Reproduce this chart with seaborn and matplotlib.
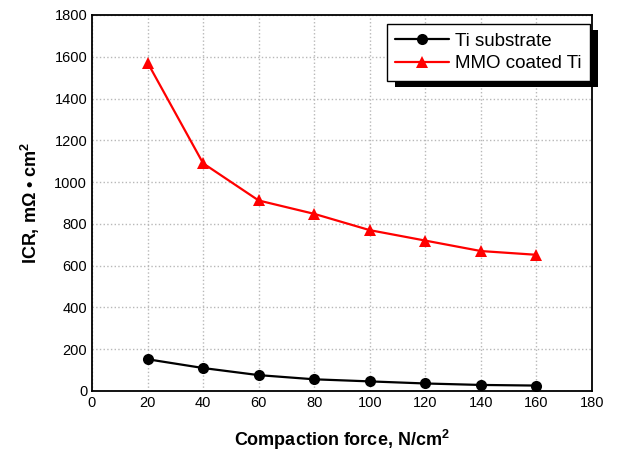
import matplotlib
matplotlib.use("Agg")
import matplotlib.pyplot as plt
from matplotlib.patches import Rectangle
import seaborn as sns
import pandas as pd
import numpy as np

# values
force = [20, 40, 60, 80, 100, 120, 140, 160]
icr_ti = [152, 110, 76, 56, 46, 36, 29, 26]
icr_mmo = [1572, 1090, 912, 848, 770, 720, 670, 652]
series_names = ["Ti substrate", "MMO coated Ti"]

df = pd.DataFrame({
    "force": force * 2,
    "icr": icr_ti + icr_mmo,
    "sample": [series_names[0]] * len(force) + [series_names[1]] * len(force),
})

sns.set_style("white")
plt.rcParams['font.family'] = ['Liberation Sans', 'DejaVu Sans']
plt.rcParams['mathtext.fontset'] = 'custom'
plt.rcParams['mathtext.rm'] = 'Liberation Sans'
plt.rcParams['mathtext.bf'] = 'Liberation Sans:bold'
for k in ['text.color', 'axes.labelcolor', 'xtick.color', 'ytick.color']:
    plt.rcParams[k] = 'black'

fig = plt.figure(figsize=(6.17, 4.51), dpi=100)
ax = fig.add_axes([92 / 617, 60 / 451, 500 / 617, 376 / 451])

sns.lineplot(data=df, x="force", y="icr", hue="sample", style="sample",
             palette={series_names[0]: "black", series_names[1]: "red"},
             markers={series_names[0]: "o", series_names[1]: "^"},
             dashes=False, markersize=8, linewidth=1.6, markeredgewidth=0,
             ax=ax, legend=True)

ax.set_xlim(0, 180)
ax.set_ylim(0, 1800)
ax.set_xticks(np.arange(0, 181, 20))
ax.set_yticks(np.arange(0, 1801, 200))
ax.set_xticks(np.arange(10, 180, 20), minor=True)
ax.set_yticks(np.arange(100, 1800, 200), minor=True)
ax.tick_params(which="both", direction="in", top=False, right=False,
               labelsize=10.5, width=1.2, color="black")
ax.tick_params(which="major", length=6)
ax.tick_params(which="minor", length=3)
ax.grid(True, which="major", linestyle=":", color="#b8b8b8", linewidth=1)
for sp in ax.spines.values():
    sp.set_color("black")
    sp.set_linewidth(1.3)

ax.set_xlabel(r"Compaction force, N/cm$^\mathbf{2}$", fontsize=13,
              fontweight="bold", labelpad=13)
ax.set_ylabel("ICR, m\u03a9 \u2022 cm$^\\mathbf{2}$", fontsize=13,
              fontweight="bold", labelpad=9)

leg = ax.legend(loc="upper right", bbox_to_anchor=(0.996, 0.976),
                borderaxespad=0, fontsize=13.5, frameon=True, fancybox=False,
                handlelength=2.9, handletextpad=0.3, borderpad=0.45,
                labelspacing=0.3, edgecolor="black")
leg.get_frame().set_linewidth(1.0)
leg.get_frame().set_alpha(1)
leg.set_zorder(10)

# black drop shadow behind the legend box
fig.canvas.draw()
bb = leg.get_window_extent().transformed(fig.transFigure.inverted())
dx, dy = 8 / 617, 6 / 451
shadow = Rectangle((bb.x0 + dx, bb.y0 - dy), bb.width, bb.height,
                   transform=fig.transFigure, facecolor="black",
                   edgecolor="none", zorder=9, clip_on=False)
ax.add_artist(shadow)

fig.savefig("out.png", dpi=100)
